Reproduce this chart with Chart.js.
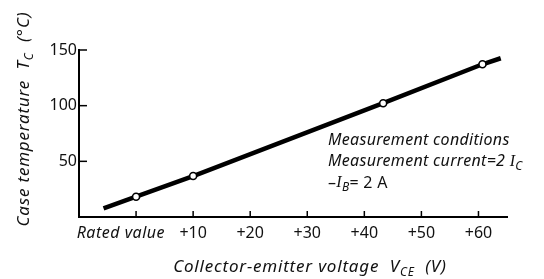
<!DOCTYPE html>
<html><head><meta charset="utf-8">
<script src="https://cdn.jsdelivr.net/npm/chart.js@4/dist/chart.umd.min.js"></script>
<style>html,body{margin:0;padding:0;background:#fff}#wrap{width:544px;height:279px}</style>
</head><body><div id="wrap"><canvas id="c" width="544" height="279"></canvas></div>
<script>
const voltageValues = [-5.7, 0, 10, 43.3, 60.7, 63.9];
const tempValues = [7.8, 18.2, 36.8, 102.2, 137.2, 142.6];
const measuredFlags = [false, true, true, true, true, false];
const xTickValues = [0, 10, 20, 30, 40, 50, 60];
const xTickLabels = ['Rated value', '+10', '+20', '+30', '+40', '+50', '+60'];
const yTickValues = [50, 100, 150];
const yTickLabels = ['50', '100', '150'];
const noteLines = [
  [{t:'Measurement conditions'}],
  [{t:'Measurement current=2 '},{t:'I',serif:true},{t:'C',sub:true}],
  [{t:'\u2013',upright:true},{t:'I',serif:true},{t:'B',sub:true},{t:'= 2 A',upright:true}]
];
const xTitle = [{t:'Collector-emitter voltage  '},{t:'V'},{t:'CE',sub:true},{t:'  (V)'}];
const yTitle = [{t:'Case temperature  '},{t:'T'},{t:'C',sub:true},{t:'  (\u00B0C)'}];

const FONT = '"Noto Sans", "DejaVu Sans", sans-serif';
function fontFor(p, size){
  const s = p.sub ? Math.round(size*0.72) : size;
  if (p.serif) return 'italic ' + s + 'px "Liberation Serif", serif';
  return (p.upright ? '' : 'italic ') + s + 'px ' + FONT;
}
function richWidth(ctx, parts, size){
  let w = 0;
  for (const p of parts){ ctx.font = fontFor(p,size); w += ctx.measureText(p.t).width; }
  return w;
}
function drawRich(ctx, parts, x, y, size, align){
  let w = richWidth(ctx, parts, size);
  let cx = align === 'center' ? x - w/2 : (align === 'right' ? x - w : x);
  ctx.textAlign = 'left'; ctx.textBaseline = 'middle';
  for (const p of parts){
    ctx.font = fontFor(p,size);
    ctx.fillText(p.t, cx, y + (p.sub ? size*0.3 : 0));
    cx += ctx.measureText(p.t).width;
  }
}

const decor = {
  id: 'decor',
  afterDraw(chart){
    const ctx = chart.ctx, xs = chart.scales.x, ys = chart.scales.y, a = chart.chartArea;
    ctx.save();
    ctx.strokeStyle = '#000'; ctx.fillStyle = '#111'; ctx.lineWidth = 1.5;
    yTickValues.forEach((v,i) => {
      const py = ys.getPixelForValue(v);
      ctx.beginPath(); ctx.moveTo(a.left, py); ctx.lineTo(a.left + 8, py); ctx.stroke();
      ctx.font = '16px ' + FONT; ctx.textAlign = 'right'; ctx.textBaseline = 'middle';
      ctx.fillText(yTickLabels[i], a.left - 2, py);
    });
    xTickValues.forEach((v,i) => {
      const px = xs.getPixelForValue(v);
      ctx.beginPath(); ctx.moveTo(px, a.bottom); ctx.lineTo(px, a.bottom - 6); ctx.stroke();
      ctx.textBaseline = 'middle';
      if (i === 0){
        ctx.font = 'italic 16px ' + FONT; ctx.textAlign = 'right';
        ctx.letterSpacing = '0.5px';
        ctx.fillText(xTickLabels[i], px + 29, a.bottom + 16);
        ctx.letterSpacing = '0px';
      } else {
        ctx.font = '16px ' + FONT; ctx.textAlign = 'center';
        ctx.fillText(xTickLabels[i], px, a.bottom + 16);
      }
    });
    ctx.letterSpacing = '0.8px';
    drawRich(ctx, xTitle, 310, 267, 17, 'center');
    ctx.save(); ctx.translate(24, 119); ctx.rotate(-Math.PI/2);
    drawRich(ctx, yTitle, 0, 0, 17, 'center');
    ctx.restore();
    ctx.letterSpacing = '0.3px';
    noteLines.forEach((ln, i) => drawRich(ctx, ln, 328, 140 + i*21.5, 16, 'left'));
    ctx.restore();
  }
};

new Chart(document.getElementById('c'), {
  type: 'line',
  data: { datasets: [{
    data: voltageValues.map((v,i) => ({x: v, y: tempValues[i]})),
    borderColor: '#000', borderWidth: 4.5, borderCapStyle: 'butt',
    pointRadius: measuredFlags.map(f => f ? 3.5 : 0),
    pointBackgroundColor: '#fff', pointBorderColor: '#000', pointBorderWidth: 1.6,
    tension: 0, fill: false
  }]},
  options: {
    responsive: false, animation: false, devicePixelRatio: 1,
    layout: { padding: { left: 71, right: 37, top: 50, bottom: 54 } },
    plugins: { legend: { display: false }, tooltip: { enabled: false } },
    scales: {
      x: { type: 'linear', min: -10, max: 65, ticks: { display: false },
           grid: { display: false }, border: { display: true, color: '#000', width: 2 } },
      y: { type: 'linear', min: 0, max: 150, ticks: { display: false },
           grid: { display: false }, border: { display: true, color: '#000', width: 2 } }
    }
  },
  plugins: [decor]
});
</script></body></html>
